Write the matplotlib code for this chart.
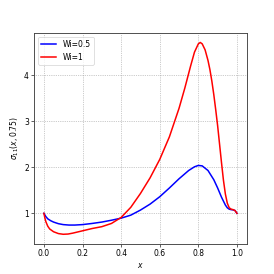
import numpy as np
import matplotlib
matplotlib.use("Agg")
import matplotlib.pyplot as plt

x_blue = [0.0, 0.01, 0.02, 0.035, 0.05, 0.075, 0.1, 0.13, 0.16, 0.2, 0.25, 0.3, 0.35, 0.4, 0.45, 0.5,
          0.55, 0.6, 0.65, 0.7, 0.75, 0.78, 0.8, 0.82, 0.85, 0.88, 0.9, 0.92, 0.94, 0.95, 0.96, 0.97,
          0.98, 0.99, 1.0]
y_blue = [1.0, 0.93, 0.88, 0.84, 0.81, 0.775, 0.755, 0.745, 0.745, 0.755, 0.78, 0.81, 0.85, 0.895, 0.96, 1.07,
          1.2, 1.36, 1.55, 1.75, 1.93, 2.01, 2.04, 2.03, 1.93, 1.73, 1.55, 1.35, 1.18, 1.12, 1.09, 1.08,
          1.075, 1.06, 1.0]

x_red = [0.0, 0.005, 0.01, 0.02, 0.03, 0.05, 0.075, 0.1, 0.125, 0.15, 0.2, 0.25, 0.3, 0.35, 0.4, 0.45,
         0.5, 0.55, 0.6, 0.65, 0.7, 0.73, 0.76, 0.78, 0.8, 0.81, 0.82, 0.835, 0.85, 0.86, 0.87, 0.88, 0.89, 0.9,
         0.91, 0.92, 0.93, 0.94, 0.95, 0.96, 0.97, 0.98, 0.99, 1.0]
y_red = [1.0, 0.9, 0.82, 0.72, 0.66, 0.6, 0.56, 0.545, 0.55, 0.57, 0.62, 0.67, 0.71, 0.78, 0.91, 1.13,
         1.43, 1.77, 2.17, 2.66, 3.28, 3.72, 4.2, 4.5, 4.68, 4.71, 4.68, 4.55, 4.32, 4.12, 3.87, 3.58, 3.25, 2.9,
         2.5, 2.1, 1.72, 1.42, 1.22, 1.12, 1.09, 1.08, 1.06, 1.0]

labels = ["Wi=0.5", "Wi=1"]

fig, ax = plt.subplots(figsize=(5, 5), dpi=54.8)
ax.plot(x_blue, y_blue, color="blue", lw=2, label=labels[0])
ax.plot(x_red, y_red, color="red", lw=2, label=labels[1])
ax.grid(True, linestyle=":", color="#999999", linewidth=0.9)
ax.set_xlabel(r"$x$")
ax.set_ylabel(r"$\sigma_{11}(x, 0.75)$")
ax.set_yticks([1, 2, 3, 4])
ax.set_xticks([0.0, 0.2, 0.4, 0.6, 0.8, 1.0])
for s in ax.spines.values():
    s.set_color("#444444")
    s.set_linewidth(1.2)
ax.legend(loc="upper left")
fig.savefig("out.png", dpi=54.8)
